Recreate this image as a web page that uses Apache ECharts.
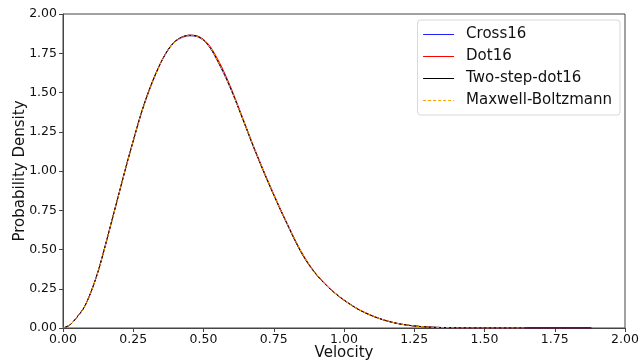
<!DOCTYPE html>
<html>
<head>
<meta charset="utf-8">
<script src="https://cdn.jsdelivr.net/npm/echarts@6/dist/echarts.min.js"></script>
<style>
  html, body { margin: 0; padding: 0; background: #fff; }
  #chart { width: 640px; height: 360px; }
</style>
</head>
<body>
<div id="chart"></div>
<script>
// Speed distributions: three simulated schemes and the Maxwell-Boltzmann reference
const velocity = [0, 0.025, 0.05, 0.075, 0.1, 0.125, 0.15, 0.175, 0.2, 0.225, 0.25, 0.275, 0.3, 0.325, 0.35,
  0.375, 0.4, 0.425, 0.45, 0.475, 0.5, 0.525, 0.55, 0.575, 0.6, 0.625, 0.65, 0.675, 0.7, 0.725, 0.75,
  0.775, 0.8, 0.825, 0.85, 0.875, 0.9, 0.925, 0.95, 0.975, 1.0, 1.05, 1.1, 1.15, 1.2, 1.25, 1.3, 1.35,
  1.4, 1.5, 1.6, 1.7, 1.8, 1.88];

const cross16 = [0, 0.02, 0.07, 0.13, 0.23, 0.36, 0.52, 0.69, 0.86, 1.03, 1.19, 1.345, 1.48, 1.595, 1.695,
  1.773, 1.825, 1.851, 1.861, 1.857, 1.832, 1.78, 1.70, 1.61, 1.51, 1.40, 1.285, 1.17, 1.06, 0.953, 0.85,
  0.75, 0.655, 0.562, 0.478, 0.405, 0.345, 0.295, 0.25, 0.212, 0.178, 0.12, 0.078, 0.047, 0.026, 0.013, 0.006, 0.003,
  0.001, 0, 0, 0, 0, 0];

const dot16 = [0, 0.02, 0.07, 0.131, 0.231, 0.361, 0.521, 0.692, 0.862, 1.032, 1.192, 1.347, 1.482, 1.597, 1.697,
  1.775, 1.827, 1.854, 1.865, 1.862, 1.838, 1.79, 1.714, 1.624, 1.52, 1.406, 1.289, 1.172, 1.062, 0.955, 0.853,
  0.753, 0.658, 0.565, 0.48, 0.407, 0.346, 0.296, 0.251, 0.213, 0.179, 0.121, 0.079, 0.047, 0.026, 0.013, 0.006, 0.003,
  0.001, 0, 0, 0, 0, 0];

const twoStepDot16 = [0, 0.02, 0.07, 0.131, 0.232, 0.362, 0.523, 0.693, 0.863, 1.033, 1.194, 1.35, 1.485, 1.6, 1.698,
  1.776, 1.828, 1.855, 1.865, 1.86, 1.834, 1.782, 1.704, 1.614, 1.512, 1.398, 1.282, 1.165, 1.055, 0.948, 0.846,
  0.747, 0.652, 0.558, 0.473, 0.402, 0.343, 0.293, 0.249, 0.211, 0.177, 0.119, 0.077, 0.046, 0.025, 0.013, 0.006, 0.003,
  0.001, 0, 0, 0, 0, 0];

const mbVelocity = [0, 0.025, 0.05, 0.075, 0.1, 0.125, 0.15, 0.175, 0.2, 0.225, 0.25, 0.275, 0.3, 0.325, 0.35,
  0.375, 0.4, 0.425, 0.45, 0.475, 0.5, 0.525, 0.55, 0.575, 0.6, 0.625, 0.65, 0.675, 0.7, 0.725, 0.75,
  0.775, 0.8, 0.825, 0.85, 0.875, 0.9, 0.925, 0.95, 0.975, 1.0, 1.05, 1.1, 1.15, 1.2, 1.25, 1.3, 1.35,
  1.4, 1.5, 1.65];

const maxwellBoltzmann = [0, 0.02, 0.07, 0.13, 0.23, 0.36, 0.52, 0.69, 0.86, 1.03, 1.19, 1.345, 1.48, 1.595, 1.695,
  1.773, 1.825, 1.852, 1.862, 1.858, 1.834, 1.783, 1.705, 1.612, 1.51, 1.40, 1.285, 1.17, 1.06, 0.953, 0.85,
  0.75, 0.655, 0.562, 0.478, 0.405, 0.345, 0.295, 0.25, 0.212, 0.178, 0.12, 0.078, 0.047, 0.026, 0.013, 0.006, 0.003,
  0.001, 0, 0];

const tickValues = [0, 0.25, 0.5, 0.75, 1.0, 1.25, 1.5, 1.75, 2.0];

const pairs = (xs, ys) => xs.map((x, i) => [x, ys[i]]);

const FONT = 'DejaVu Sans';
const chart = echarts.init(document.getElementById('chart'), null, { renderer: 'canvas' });

const axisCommon = {
  type: 'value',
  min: tickValues[0],
  max: tickValues[tickValues.length - 1],
  interval: 0.25,
  axisLine: { show: true, onZero: false, lineStyle: { color: '#444', width: 1 } },
  axisTick: { show: true, inside: false, length: 4, lineStyle: { color: '#444', width: 1 } },
  splitLine: { show: false },
  nameLocation: 'middle',
  nameMoveOverlap: false,
  nameTextStyle: { fontFamily: FONT, fontSize: 15, color: '#111' }
};

chart.setOption({
  animation: false,
  backgroundColor: '#fff',
  grid: {
    left: 63, right: 15, top: 14, bottom: 32,
    outerBoundsMode: 'none', containLabel: false,
    show: true, borderColor: '#444', borderWidth: 1, backgroundColor: 'transparent'
  },
  xAxis: Object.assign({}, axisCommon, {
    name: 'Velocity',
    nameGap: 18,
    axisLabel: { fontFamily: FONT, fontSize: 12.5, color: '#111', margin: 5, formatter: v => v.toFixed(2) }
  }),
  yAxis: Object.assign({}, axisCommon, {
    name: 'Probability Density',
    nameGap: 35,
    nameRotate: 90,
    axisLabel: { fontFamily: FONT, fontSize: 12.5, color: '#111', margin: 6, formatter: v => v.toFixed(2) }
  }),
  legend: {
    orient: 'vertical',
    right: 20,
    top: 20,
    itemWidth: 31,
    itemHeight: 12,
    itemGap: 5,
    padding: [6, 8, 6, 5],
    backgroundColor: '#fff',
    borderColor: '#d8d8d8',
    borderWidth: 1,
    borderRadius: 3,
    itemStyle: { opacity: 0 },
    lineStyle: { width: 1 },
    textStyle: { fontFamily: FONT, fontSize: 15, lineHeight: 17, color: '#111', padding: [0, 0, 0, 7] },
    data: ['Cross16', 'Dot16', 'Two-step-dot16', 'Maxwell-Boltzmann']
  },
  series: [
    { name: 'Cross16', type: 'line', data: pairs(velocity, cross16), smooth: 0.3, showSymbol: false, symbol: 'none',
      lineStyle: { color: '#2020ff', width: 1 }, itemStyle: { color: '#2020ff' } },
    { name: 'Dot16', type: 'line', data: pairs(velocity, dot16), smooth: 0.3, showSymbol: false, symbol: 'none',
      lineStyle: { color: '#ff0000', width: 1 }, itemStyle: { color: '#ff0000' } },
    { name: 'Two-step-dot16', type: 'line', data: pairs(velocity, twoStepDot16), smooth: 0.3, showSymbol: false, symbol: 'none',
      lineStyle: { color: '#000000', width: 1 }, itemStyle: { color: '#000000' } },
    { name: 'Maxwell-Boltzmann', type: 'line', data: pairs(mbVelocity, maxwellBoltzmann), smooth: 0.3, showSymbol: false, symbol: 'none',
      lineStyle: { color: '#ffa500', width: 1, type: [3, 2] }, itemStyle: { color: '#ffa500' } }
  ]
});
</script>
</body>
</html>
